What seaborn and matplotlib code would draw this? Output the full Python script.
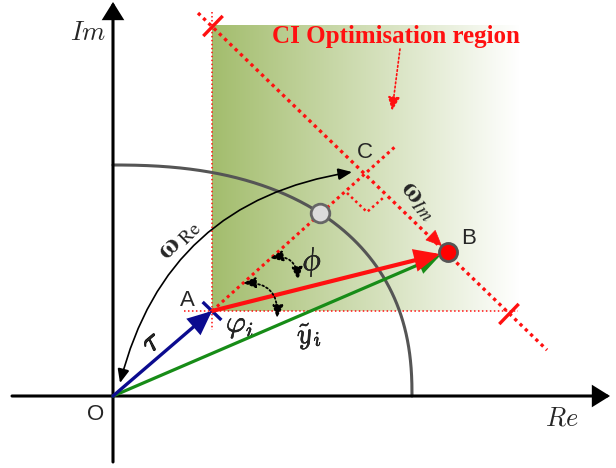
import numpy as np
import pandas as pd
import matplotlib
matplotlib.use("Agg")
import matplotlib.pyplot as plt
import matplotlib.patheffects as pe
from matplotlib.patches import FancyArrowPatch
from matplotlib.colors import LinearSegmentedColormap
import seaborn as sns

sns.set_theme(style="white")
plt.rcParams["font.family"] = ["Liberation Sans", "DejaVu Sans"]
plt.rcParams["mathtext.fontset"] = "cm"

# ---- geometry of the phasor diagram (Re, Im) ----
point_names = ["O", "A", "B", "C"]
point_re = [0, 99, 335, 251]
point_im = [0, 85, 144, 221]

# point where the A-C direction meets the unit arc
cross_re, cross_im = 207, 183

# quarter arc: radii along Re and Im, and its squareness
arc_radius_re, arc_radius_im = 299, 231
arc_power = 2.35

# omega_Im search line (end points) and its limit ticks
diag_re = [85, 434]
diag_im = [383, 46]
limit_re = [100, 396]
limit_im = [370, 82]

# A-C direction line end
ac_end_re, ac_end_im = 284, 251

# CI optimisation region (Re span, Im span)
region_re = [99, 407]
region_im = [85, 371]

# axis extents
re_axis = [-101, 497]
im_axis = [-66, 394]

pts = dict(zip(point_names, zip(point_re, point_im)))
O, A, B, C = pts["O"], pts["A"], pts["B"], pts["C"]

fig = plt.figure(figsize=(6.16, 4.68), dpi=100)
ax = fig.add_axes([0, 0, 1, 1])

RED = "#ff1010"
BLUE = "#0b0b8f"

# shaded region with horizontal fade
cmap = LinearSegmentedColormap.from_list("fade", ["#a3bd6d", "#ffffff"])
ax.imshow(np.linspace(0, 1, 256).reshape(1, -1), cmap=cmap, aspect="auto",
          extent=(region_re[0], region_re[1], region_im[0], region_im[1]),
          zorder=0, interpolation="bilinear")

# region borders (fine dotted)
thin_dot = (0, (1, 1.6))
ax.plot([A[0], A[0]], [im_axis[1] - 10, 66], color=RED, lw=1.1, ls=thin_dot, zorder=1)
ax.plot([71, region_re[1] - 2], [A[1], A[1]], color=RED, lw=1.1, ls=thin_dot, zorder=1)

# quarter arc (superellipse)
theta = np.linspace(0, np.pi / 2, 300)
arc = pd.DataFrame({"re": arc_radius_re * np.cos(theta) ** (2 / arc_power),
                    "im": arc_radius_im * np.sin(theta) ** (2 / arc_power)})
sns.lineplot(data=arc, x="re", y="im", sort=False, color="#555555", lw=2.2,
             ax=ax, zorder=2)

# omega_Im line and A-C line (bold dotted)
bold_dot = (0, (1, 1.2))
ax.plot(diag_re, diag_im, color=RED, lw=2.4, ls=bold_dot, zorder=3)
ax.plot([A[0], ac_end_re], [A[1], ac_end_im], color=RED, lw=2.2, ls=bold_dot, zorder=3)

# right-angle marker at C
ax.plot([234, 254, 270], [203, 184, 198], color=RED, lw=1.8, ls=(0, (1, 1.3)), zorder=3)

# limit ticks on the omega_Im line
d = np.array([diag_re[1] - diag_re[0], diag_im[1] - diag_im[0]], float)
d /= np.hypot(*d)
n = np.array([-d[1], d[0]])
for lr, li in zip(limit_re, limit_im):
    p = np.array([lr, li])
    ax.plot([p[0] - 14 * n[0], p[0] + 14 * n[0]], [p[1] - 14 * n[1], p[1] + 14 * n[1]],
            color=RED, lw=2.4, solid_capstyle="butt", zorder=4)

# tick across A (along the omega_Im direction)
ax.plot([A[0] - 13 * d[0], A[0] + 13 * d[0]], [A[1] - 13 * d[1], A[1] + 13 * d[1]],
        color=BLUE, lw=2.4, solid_capstyle="butt", zorder=6)


def arrow(p, q, color, lw, style, ms=14, sb=0, ls="-", z=5, cs="arc3"):
    a = FancyArrowPatch(p, q, arrowstyle=style, mutation_scale=ms, color=color,
                        lw=lw, shrinkA=0, shrinkB=sb, linestyle=ls, zorder=z,
                        connectionstyle=cs, joinstyle="miter")
    ax.add_patch(a)


# axes
ax_style = "-|>,head_length=0.45,head_width=0.28"
arrow((re_axis[0], 0), (re_axis[1], 0), "black", 2.2, ax_style, ms=22, z=2)
arrow((0, im_axis[0]), (0, im_axis[1]), "black", 2.2, ax_style, ms=22, z=2)

# vectors
vec_style = "-|>,head_length=0.9,head_width=0.4"
arrow(O, B, "#178c17", 2.3, vec_style, ms=14, sb=6, z=5)
arrow(A, B, RED, 3.0, vec_style, ms=15, sb=6, z=6)
arrow(O, A, BLUE, 2.4, vec_style, ms=15, sb=0, z=6)
# head of the omega_Im direction into B
arrow((B[0] - 22 * d[0], B[1] - 22 * d[1]), B, RED, 0.5, vec_style, ms=12, sb=6, z=6)

# omega_Re arc arrow O -> C
arrow((7, 13), (239, 224), "black", 1.2, "<|-|>,head_length=0.7,head_width=0.3",
      ms=12, z=7, cs="arc3,rad=-0.33")

# dotted angle arrows
ang_style = "<|-|>,head_length=0.7,head_width=0.3"
arrow((157, 138), (185, 116), "black", 1.3, ang_style, ms=11, ls=(0, (1, 1.4)),
      z=7, cs="arc3,rad=-0.55")
arrow((130, 113), (164, 78), "black", 1.3, ang_style, ms=11, ls=(0, (1, 1.4)),
      z=7, cs="arc3,rad=-0.55")

# points B and the arc crossing
sns.scatterplot(x=[cross_re], y=[cross_im], s=180, color="#dcdcdc",
                edgecolor="#666666", linewidth=2.0, ax=ax, zorder=8)
sns.scatterplot(x=[B[0]], y=[B[1]], s=170, color="#ff0000",
                edgecolor="#555555", linewidth=2.0, ax=ax, zorder=8)

# text
heavy = [pe.withStroke(linewidth=0.8, foreground="black")]
light = [pe.withStroke(linewidth=0.35, foreground="black")]
ax.text(-25, 363, r"$Im$", fontsize=19, ha="center", va="center")
ax.text(449, -22, r"$Re$", fontsize=19, ha="center", va="center")
for name, (x, y) in zip(["O", "A", "B", "C"], [(-17, -19), (74, 95), (356, 157), (252, 243)]):
    ax.text(x, y, name, fontsize=16, ha="center", va="center")
ax.text(39, 54, r"$\tau$", fontsize=22, ha="center", va="center", rotation=40,
        path_effects=heavy)
ax.text(127, 71, r"$\varphi_i$", fontsize=22, ha="center", va="center",
        path_effects=light)
ax.text(196, 60, r"$\tilde{y}_i$", fontsize=21, ha="center", va="center",
        rotation=10, path_effects=light)
ax.text(199, 134, r"$\phi$", fontsize=23, ha="center", va="center", rotation=10,
        path_effects=light)
ax.text(66, 157, r"$\mathbf{\omega}\,_{\mathrm{Re}}$", fontsize=20, ha="center",
        va="center", rotation=45, math_fontfamily="stix")
ax.text(305, 196, r"$\mathbf{\omega}_{Im}$", fontsize=20, ha="center", va="center",
        rotation=-50, math_fontfamily="stix")
ax.text(283, 359, "CI Optimisation region", fontsize=18, color=RED,
        fontweight="bold", family=["Liberation Serif", "DejaVu Serif"],
        ha="center", va="center")
arrow((287, 347), (279, 285), RED, 1.2, "-|>,head_length=0.7,head_width=0.3",
      ms=12, ls=(0, (1, 1.5)), z=7)

ax.set_xlim(-113, 503)
ax.set_ylim(-72, 396)
ax.set_aspect("auto")
ax.axis("off")
fig.savefig("out.png", dpi=100)
